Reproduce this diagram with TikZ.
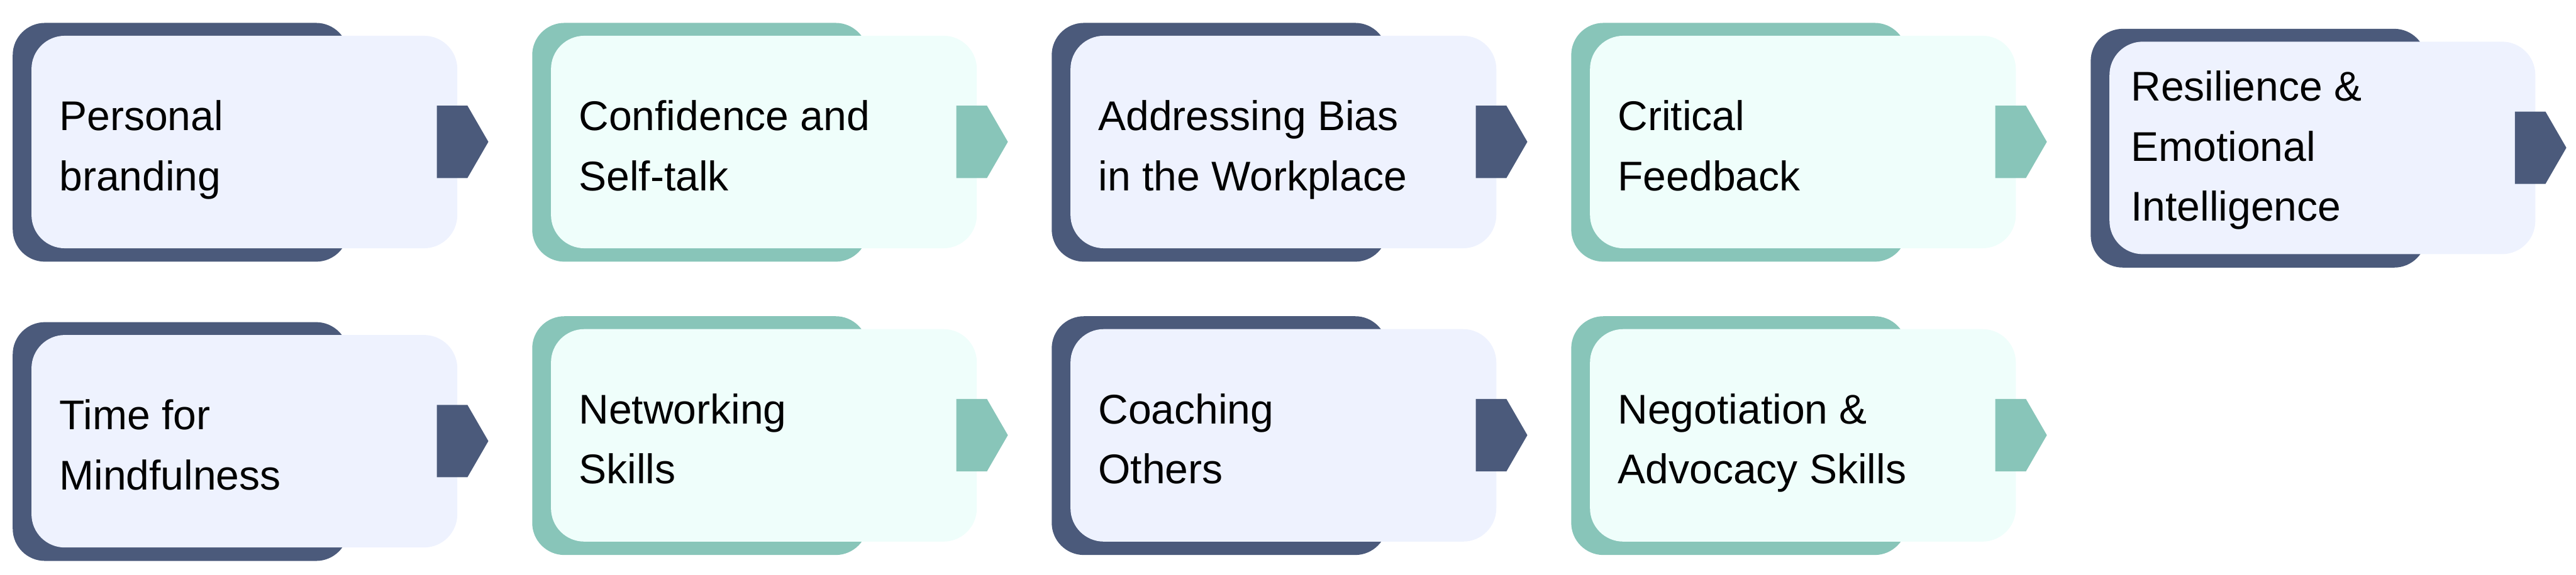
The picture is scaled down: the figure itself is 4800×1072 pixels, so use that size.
\documentclass[tikz,border=0pt]{standalone}
\usepackage{fontspec}
\setmainfont{Liberation Sans}
\usetikzlibrary{calc}
\definecolor{navy}{HTML}{4B5A7B}
\definecolor{lav}{HTML}{EEF2FE}
\definecolor{teal}{HTML}{88C5B9}
\definecolor{mint}{HTML}{EFFEFB}
\tikzset{
  backcard/.style={fill=#1, draw=none, rounded corners=0.6cm, inner sep=0pt,
    minimum width=6.25cm, minimum height=4.45cm, anchor=north west},
  frontcard/.style={fill=#1, draw=none, rounded corners=0.62cm, inner sep=0pt,
    minimum width=7.93cm, minimum height=3.96cm, anchor=north west},
  cardtext/.style={anchor=base west, inner sep=0pt, text=black,
    font=\fontsize{22}{31.9}\selectfont}
}
% #1 name, #2 x, #3 y (front card top-left), #4 dark, #5 light,
% #6 text x offset, #7 first baseline offset, #8 lines
\newcommand\skillcard[8]{%
  \node[backcard=#4] (#1back) at (#2-35,#3-24) {};
  \node[frontcard=#5] (#1) at (#2,#3) {};
  \fill[#4] (#2+756,#3+131) -- (#2+813,#3+131) -- (#2+852,#3+198.5)
     -- (#2+813,#3+266) -- (#2+756,#3+266) -- cycle;
  \node[cardtext] (#1text) at (#2+#6,#3+#7) {\vtop{#8}};
}
\begin{document}
\begin{tikzpicture}[x=0.01cm,y=-0.01cm]
\useasboundingbox (0,0) rectangle (4800,1072);
\skillcard{c1}{58}{66}{navy}{lav}{52}{177}{\hbox{Personal}\hbox{branding}}
\skillcard{c2}{1026}{66}{teal}{mint}{52}{177}{\hbox{Confidence and}\hbox{Self-talk}}
\skillcard{c3}{1994}{66}{navy}{lav}{52}{177}{\hbox{Addressing Bias}\hbox{in the Workplace}}
\skillcard{c4}{2962}{66}{teal}{mint}{52}{177}{\hbox{Critical}\hbox{Feedback}}
\skillcard{c5}{3930}{77}{navy}{lav}{40}{111}{\hbox{Resilience \&}\hbox{Emotional}\hbox{Intelligence}}
\skillcard{c6}{58}{624}{navy}{lav}{52}{177}{\hbox{Time for}\hbox{Mindfulness}}
\skillcard{c7}{1026}{613}{teal}{mint}{52}{177}{\hbox{Networking}\hbox{Skills}}
\skillcard{c8}{1994}{613}{navy}{lav}{52}{177}{\hbox{Coaching}\hbox{Others}}
\skillcard{c9}{2962}{613}{teal}{mint}{52}{177}{\hbox{Negotiation \&}\hbox{Advocacy Skills}}
\end{tikzpicture}
\end{document}
